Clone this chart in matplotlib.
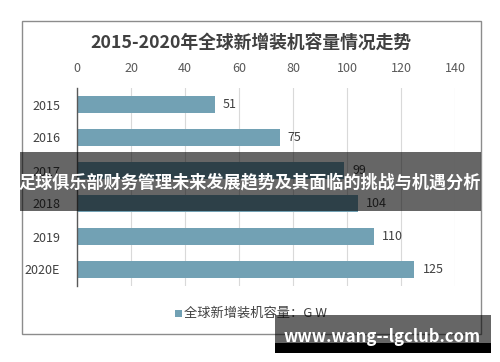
import matplotlib
matplotlib.use("Agg")
import matplotlib.pyplot as plt
from matplotlib.patches import Rectangle

plt.rcParams['font.family'] = ['Noto Sans CJK SC', 'DejaVu Sans']

# data
years = ['2015', '2016', '2017', '2018', '2019', '2020E']
capacity = [51, 75, 99, 104, 110, 125]
x_ticks = [0, 20, 40, 60, 80, 100, 120, 140]
title = '2015-2020年全球新增装机容量情况走势'
legend_label = '全球新增装机容量：G W'
banner = '足球俱乐部财务管理未来发展趋势及其面临的挑战与机遇分析'
site = 'www.wang--lgclub.com'

W, H = 500, 362
fig = plt.figure(figsize=(W / 100, H / 100), dpi=100)
fig.patch.set_facecolor('white')

def px(x, y):
    # pixel coords (top-left origin) -> figure fraction
    return x / W, 1 - y / H

# chart frame
fx, fy = px(22, 334)
fig.patches.append(Rectangle((fx, fy), (481 - 22) / W, (334 - 21) / H,
                             transform=fig.transFigure, fill=False,
                             edgecolor='#8c8c8c', linewidth=1.0))

ax = fig.add_axes([77 / W, 1 - 286 / H, (455 - 77) / W, (286 - 88) / H])
bar_color = '#72a1b4'
bars = ax.barh(range(len(years)), capacity, height=0.5, color=bar_color)
ax.set_ylim(len(years) - 0.5, -0.5)
ax.set_xlim(0, 140)
ax.set_xticks(x_ticks)
ax.xaxis.tick_top()
ax.tick_params(axis='x', length=0, labelsize=9, labelcolor='#595959', pad=9)
ax.set_yticks(range(len(years)))
ax.set_yticklabels(years)
ax.tick_params(axis='y', length=0, labelsize=9, labelcolor='#404040', pad=12)
ax.grid(axis='x', color='#d9d9d9', linewidth=0.8)
ax.set_axisbelow(True)
for s in ['top', 'right', 'bottom']:
    ax.spines[s].set_visible(False)
ax.spines['left'].set_color('#595959')
ax.spines['left'].set_linewidth(1.0)

for i, v in enumerate(capacity):
    ax.text(v + 3, i, str(v), va='center', ha='left', fontsize=9, color='#404040')

fig.text(251 / W, 1 - 43 / H, title, ha='center', va='center', fontsize=12.8,
         fontweight='bold', color='#404040')

# legend
lx, ly = px(178, 313)
fig.patches.append(Rectangle((lx - 3.5 / W, ly - 3.5 / H), 7 / W, 7 / H,
                             transform=fig.transFigure, facecolor=bar_color,
                             edgecolor='none'))
fig.text(lx + 6 / W, ly, legend_label, ha='left', va='center', fontsize=9.5,
         color='#404040')

# overlay banner
bx, by = px(20, 211)
fig.patches.append(Rectangle((bx, by), (481 - 20) / W, (211 - 152) / H,
                             transform=fig.transFigure, facecolor='black',
                             alpha=0.6, edgecolor='none', zorder=10))
fig.text(0.5, 1 - 182 / H, banner, ha='center', va='center', fontsize=12.3,
         fontweight='bold', color='white', zorder=11)

# watermark
wx, wy = px(275, 343)
fig.patches.append(Rectangle((wx, wy), (491 - 275) / W, (343 - 315) / H,
                             transform=fig.transFigure, facecolor='black',
                             alpha=0.6, edgecolor='none', zorder=10))
wx2, wy2 = px(275, 353)
fig.patches.append(Rectangle((wx2, wy2), (491 - 275) / W, 10 / H,
                             transform=fig.transFigure, facecolor='black',
                             edgecolor='none', zorder=10))
fig.text(382 / W, 1 - 337 / H, site, ha='center', va='center', fontsize=12,
         fontweight='bold', color='white', zorder=11)

fig.savefig('out.png', dpi=100)
